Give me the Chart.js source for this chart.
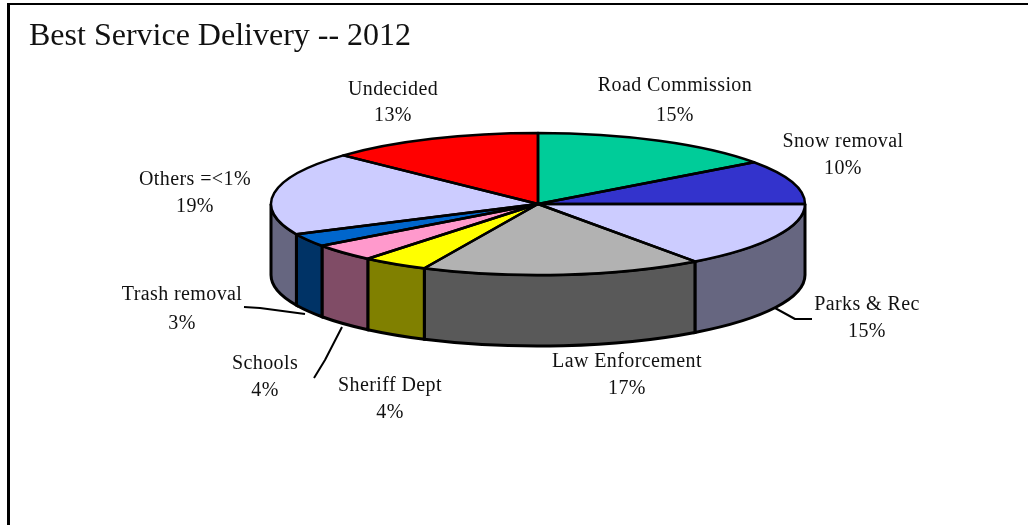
<!DOCTYPE html>
<html>
<head>
<meta charset="utf-8">
<title>Best Service Delivery -- 2012</title>
<script src="https://cdn.jsdelivr.net/npm/chart.js@4"></script>
<style>
    html, body { margin: 0; padding: 0; background: #fff; overflow: hidden; }
    #quadro { position: absolute; left: 7px; top: 3px; width: 1100px; height: 600px;
              border-top: 2px solid #000; border-left: 3px solid #000; }
    #grafico { position: absolute; left: 0; top: 0; }
</style>
</head>
<body>
<div id="quadro"></div>
<canvas id="grafico" width="1028" height="525"></canvas>
<script>
const categorias = ['Road Commission', 'Snow removal', 'Parks & Rec', 'Law Enforcement', 'Sheriff Dept', 'Schools', 'Trash removal', 'Others =<1%', 'Undecided'];
const valores = [15, 10, 15, 17, 4, 4, 3, 19, 13];
const coresTopo = ['#00CC99', '#3333CC', '#CCCCFF', '#B2B2B2', '#FFFF00', '#FF99CC', '#0066CC', '#CCCCFF', '#FF0000'];
const coresLado = ['#006650', '#191966', '#666680', '#595959', '#808000', '#804C66', '#003366', '#666680', '#800000'];

// posicao dos rotulos (centro x, linha de base 1, linha de base 2)
const posRotulos = [
    [675, 91, 121], [843, 147, 174], [867, 310, 337], [627, 367, 394], [390, 391, 418],
    [265, 369, 396], [182, 300, 329], [195, 185, 212], [393, 95, 121]
];
const linhasGuia = [
    [[775, 308], [795, 319], [812, 319]],
    [[244, 307], [260, 308], [305, 314]],
    [[342, 327], [325, 360], [314, 378]]
];

const centroX = 538, centroY = 204, raio = 267, raioY = 71, altura = 71;

function aplicarEscala(ctx, arco) {
    ctx.translate(centroX, centroY);
    ctx.scale(1, raioY / raio);
    ctx.translate(-arco.x, -arco.y);
}

const pizza3d = {
    id: 'pizza3d',
    beforeDatasetsDraw(chart) {
        const ctx = chart.ctx;
        // lateral do cilindro, so a metade da frente (angulos 0 a PI)
        chart.getDatasetMeta(0).data.forEach((arco, i) => {
            const ini = Math.max(arco.startAngle, 0);
            const fim = Math.min(arco.endAngle, Math.PI);
            if (fim <= ini) return;
            ctx.beginPath();
            ctx.ellipse(centroX, centroY, raio, raioY, 0, ini, fim);
            ctx.ellipse(centroX, centroY + altura, raio, raioY, 0, fim, ini, true);
            ctx.closePath();
            ctx.fillStyle = coresLado[i];
            ctx.fill();
            ctx.lineWidth = 3;
            ctx.strokeStyle = '#000';
            ctx.stroke();
        });
        ctx.save();
        aplicarEscala(ctx, chart.getDatasetMeta(0).data[0]);
    },
    afterDatasetsDraw(chart) {
        const ctx = chart.ctx;
        ctx.restore();

        // contorno do topo: caminho achatado, traco sem achatar
        chart.getDatasetMeta(0).data.forEach(arco => {
            ctx.beginPath();
            ctx.moveTo(centroX, centroY);
            ctx.ellipse(centroX, centroY, raio, raioY, 0, arco.startAngle, arco.endAngle);
            ctx.closePath();
            ctx.lineWidth = 2.5;
            ctx.lineJoin = 'round';
            ctx.strokeStyle = '#000';
            ctx.stroke();
        });

        linhasGuia.forEach(pts => {
            ctx.beginPath();
            pts.forEach((p, i) => i ? ctx.lineTo(p[0], p[1]) : ctx.moveTo(p[0], p[1]));
            ctx.lineWidth = 2;
            ctx.stroke();
        });

        ctx.fillStyle = '#111';
        ctx.font = '20px "Liberation Serif"';
        ctx.letterSpacing = '0.4px';
        ctx.textAlign = 'center';
        ctx.textBaseline = 'alphabetic';
        categorias.forEach((nome, i) => {
            const p = posRotulos[i];
            ctx.fillText(nome, p[0], p[1]);
            ctx.fillText(valores[i] + '%', p[0], p[2]);
        });
        ctx.letterSpacing = '0px';
    }
};

new Chart(document.getElementById('grafico'), {
    type: 'pie',
    data: {
        labels: categorias,
        datasets: [{
            data: valores,
            backgroundColor: coresTopo,
            borderWidth: 0,
            clip: false
        }]
    },
    options: {
        responsive: false,
        animation: false,
        radius: raio,
        layout: { padding: { left: 29 } },
        plugins: {
            legend: { display: false },
            tooltip: { enabled: false },
            title: {
                display: true,
                text: 'Best Service Delivery -- 2012',
                align: 'start',
                color: '#111',
                font: { family: '"Liberation Serif"', size: 32, weight: 'normal' },
                padding: { top: 17, bottom: 10 }
            }
        }
    },
    plugins: [pizza3d]
});
</script>
</body>
</html>
